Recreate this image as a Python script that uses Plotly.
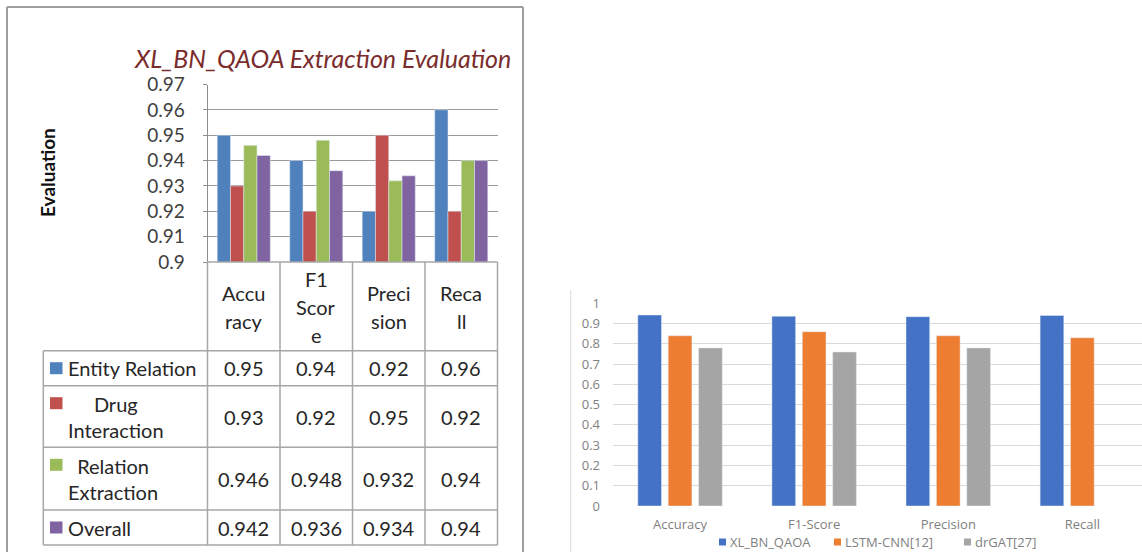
import plotly.graph_objects as go

W, H = 1142, 552

# ---- left panel: XL_BN_QAOA scores per extraction task ----
metrics = ["Accuracy", "F1 Score", "Precision", "Recall"]
header_lines = [["Accu", "racy"], ["F1", "Scor", "e"], ["Preci", "sion"], ["Reca", "ll"]]
task_labels = ["Entity Relation", "Drug<br>Interaction", "Relation<br>Extraction", "Overall"]
entity_relation = [0.95, 0.94, 0.92, 0.96]
drug_interaction = [0.93, 0.92, 0.95, 0.92]
relation_extraction = [0.946, 0.948, 0.932, 0.94]
overall = [0.942, 0.936, 0.934, 0.94]
left_ticks = [0.9, 0.91, 0.92, 0.93, 0.94, 0.95, 0.96, 0.97]

# ---- right panel: comparison with baselines ----
cmp_metrics = ["Accuracy", "F1-Score", "Precision", "Recall"]
xl_bn_qaoa = [0.942, 0.936, 0.934, 0.94]
lstm_cnn = [0.84, 0.86, 0.84, 0.83]
drgat = [0.78, 0.76, 0.78, None]
right_ticks = [0, 0.1, 0.2, 0.3, 0.4, 0.5, 0.6, 0.7, 0.8, 0.9, 1]


def xp(px):
    return px / W


def yp(py):
    return 1 - py / H


FONT = "Lato"
TBL = 20
left_series = [
    ("Entity Relation", entity_relation, "#4F81BD"),
    ("Drug Interaction", drug_interaction, "#C0504D"),
    ("Relation Extraction", relation_extraction, "#9BBB59"),
    ("Overall", overall, "#8064A2"),
]
right_series = [
    ("XL_BN_QAOA", xl_bn_qaoa, "#4472C4"),
    ("LSTM-CNN[12]", lstm_cnn, "#ED7D31"),
    ("drGAT[27]", drgat, "#A5A5A5"),
]

fig = go.Figure()

bar_w = 0.183
for i, (name, vals, color) in enumerate(left_series):
    fig.add_trace(go.Bar(
        x=metrics, y=vals, name=name, marker_color=color,
        width=bar_w, offset=-2 * bar_w + i * bar_w,
        xaxis="x", yaxis="y", showlegend=False, hoverinfo="x+y+name",
    ))

for name, vals, color in right_series:
    fig.add_trace(go.Bar(
        x=cmp_metrics, y=vals, name=name, marker_color=color,
        xaxis="x2", yaxis="y2", showlegend=False,
    ))

# plot-area geometry (px)
L_X0, L_X1 = 207.5, 497.5
L_Y0, L_Y1 = 84.5, 262
R_X0 = 613
R_Y0, R_Y1 = 303.3, 506
col_w = (L_X1 - L_X0) / len(metrics)
r_cat_w = 134.1
r_x1_range = (W - R_X0) / r_cat_w - 0.5

fig.update_layout(
    width=W, height=H,
    margin=dict(l=0, r=0, t=0, b=0),
    paper_bgcolor="white", plot_bgcolor="white",
    barmode="group", bargap=0.32, bargroupgap=0.22,
    showlegend=False,
    font=dict(family=FONT, color="#333333"),
    xaxis=dict(
        domain=[xp(L_X0), xp(L_X1)], anchor="y", type="category",
        range=[-0.5, 3.5], showticklabels=False, showgrid=False,
        showline=False, zeroline=False, fixedrange=True,
    ),
    yaxis=dict(
        domain=[yp(L_Y1), yp(L_Y0)], anchor="x", range=[0.9, 0.97],
        tickvals=left_ticks, ticktext=[f"{t:g}" for t in left_ticks],
        tickfont=dict(size=19, color="#404040", family=FONT),
        ticks="outside", ticklen=4, tickcolor="#8C8C8C",
        ticklabelstandoff=14,
        showgrid=True, gridcolor="#9A9A9A", gridwidth=1,
        showline=True, linecolor="#8C8C8C", linewidth=1,
        zeroline=False, automargin=False,
    ),
    xaxis2=dict(
        domain=[xp(R_X0), 1], anchor="y2", type="category",
        range=[-0.5, r_x1_range], showgrid=False, showline=False,
        zeroline=False, ticks="",
        tickfont=dict(size=13, color="#7F7F7F", family="Open Sans"),
        ticklabelstandoff=9, automargin=False,
    ),
    yaxis2=dict(
        domain=[yp(R_Y1), yp(R_Y0)], anchor="x2", range=[0, 1],
        tickvals=right_ticks, ticktext=[f"{t:g}" for t in right_ticks],
        tickfont=dict(size=13, color="#7F7F7F", family="Open Sans"),
        ticklabelstandoff=12,
        showgrid=True, gridcolor="#D9D9D9", gridwidth=1,
        showline=False, zeroline=False, automargin=False,
    ),
)

shapes = []
annos = []

# outer frame of the left panel
frame = dict(type="line", xref="paper", yref="paper",
             line=dict(color="#9E9E9E", width=2))
shapes.append({**frame, "x0": xp(7), "x1": xp(7), "y0": yp(7), "y1": 0})
shapes.append({**frame, "x0": xp(7), "x1": xp(523), "y0": yp(7), "y1": yp(7)})
shapes.append({**frame, "x0": xp(523), "x1": xp(523), "y0": yp(7), "y1": 0})
# left edge of the right panel
shapes.append(dict(type="line", xref="paper", yref="paper",
                   x0=xp(570.7), x1=xp(570.7), y0=yp(290), y1=0,
                   line=dict(color="#D9D9D9", width=1)))

# data table grid
grid = dict(type="line", xref="paper", yref="paper",
            line=dict(color="#A6A6A6", width=1.5))
T_LEFT = 43.3
row_edges = [350.7, 385.7, 447.3, 510, 545]
shapes.append({**grid, "x0": xp(L_X0), "x1": xp(L_X1), "y0": yp(L_Y1), "y1": yp(L_Y1)})
for ry in row_edges:
    shapes.append({**grid, "x0": xp(T_LEFT), "x1": xp(L_X1), "y0": yp(ry), "y1": yp(ry)})
shapes.append({**grid, "x0": xp(T_LEFT), "x1": xp(T_LEFT),
               "y0": yp(row_edges[0]), "y1": yp(row_edges[-1])})
for k in range(len(metrics) + 1):
    cx = L_X0 + k * col_w
    shapes.append({**grid, "x0": xp(cx), "x1": xp(cx),
                   "y0": yp(L_Y1), "y1": yp(row_edges[-1])})

# header cells (wrapped metric names)
HEAD_C, HEAD_STEP = 307, 28
for i, lines in enumerate(header_lines):
    n = len(lines)
    for j, txt in enumerate(lines):
        yc = HEAD_C + (j - (n - 1) / 2) * HEAD_STEP
        annos.append(dict(xref="x", yref="paper", x=i, y=yp(yc), text=txt,
                          showarrow=False, xanchor="center", yanchor="middle",
                          font=dict(size=TBL, color="#262626", family=FONT)))

# body rows: legend key, task label, values
for r, ((name, vals, color), label) in enumerate(zip(left_series, task_labels)):
    top, bot = row_edges[r], row_edges[r + 1]
    yc = (top + bot) / 2
    multi = "<br>" in label
    key_y = top + 17.5 if multi else yc
    shapes.append(dict(type="rect", xref="paper", yref="paper",
                       x0=xp(50), x1=xp(62.5), y0=yp(key_y - 6), y1=yp(key_y + 6),
                       fillcolor=color, line=dict(width=0)))
    annos.append(dict(xref="paper", yref="paper", x=xp(66), y=yp(yc),
                      text=label, showarrow=False, xanchor="left", yanchor="middle",
                      align="center",
                      font=dict(size=TBL, color="#262626", family=FONT)))
    for i, v in enumerate(vals):
        annos.append(dict(xref="x", yref="paper", x=i, y=yp(yc),
                          text=f"{v:g}", showarrow=False, xanchor="center",
                          yanchor="middle",
                          font=dict(size=TBL, color="#262626", family=FONT)))

# legend of the comparison chart (kept inside the page)
LEG_Y = 542
leg_key_x = [719, 834, 964]
for (name, _, color), kx in zip(right_series, leg_key_x):
    shapes.append(dict(type="rect", xref="paper", yref="paper",
                       x0=xp(kx), x1=xp(kx + 7), y0=yp(LEG_Y - 3.5), y1=yp(LEG_Y + 3.5),
                       fillcolor=color, line=dict(width=0)))
    annos.append(dict(xref="paper", yref="paper", x=xp(kx + 9), y=yp(LEG_Y),
                      text=name, showarrow=False, xanchor="left", yanchor="middle",
                      font=dict(size=13, color="#7F7F7F", family="Open Sans")))

# chart title and axis title
annos.append(dict(xref="paper", yref="paper", x=xp(322), y=yp(58),
                  text="<i>XL_BN_QAOA Extraction Evaluation</i>", showarrow=False,
                  xanchor="center", yanchor="middle",
                  font=dict(size=25, color="#7A2C2C", family=FONT)))
annos.append(dict(xref="paper", yref="paper", x=xp(47), y=yp(172),
                  text="<b>Evaluation</b>", showarrow=False, textangle=-90,
                  xanchor="center", yanchor="middle",
                  font=dict(size=19, color="#111111", family=FONT)))

fig.update_layout(shapes=shapes, annotations=annos)
fig.write_html("out.html")
